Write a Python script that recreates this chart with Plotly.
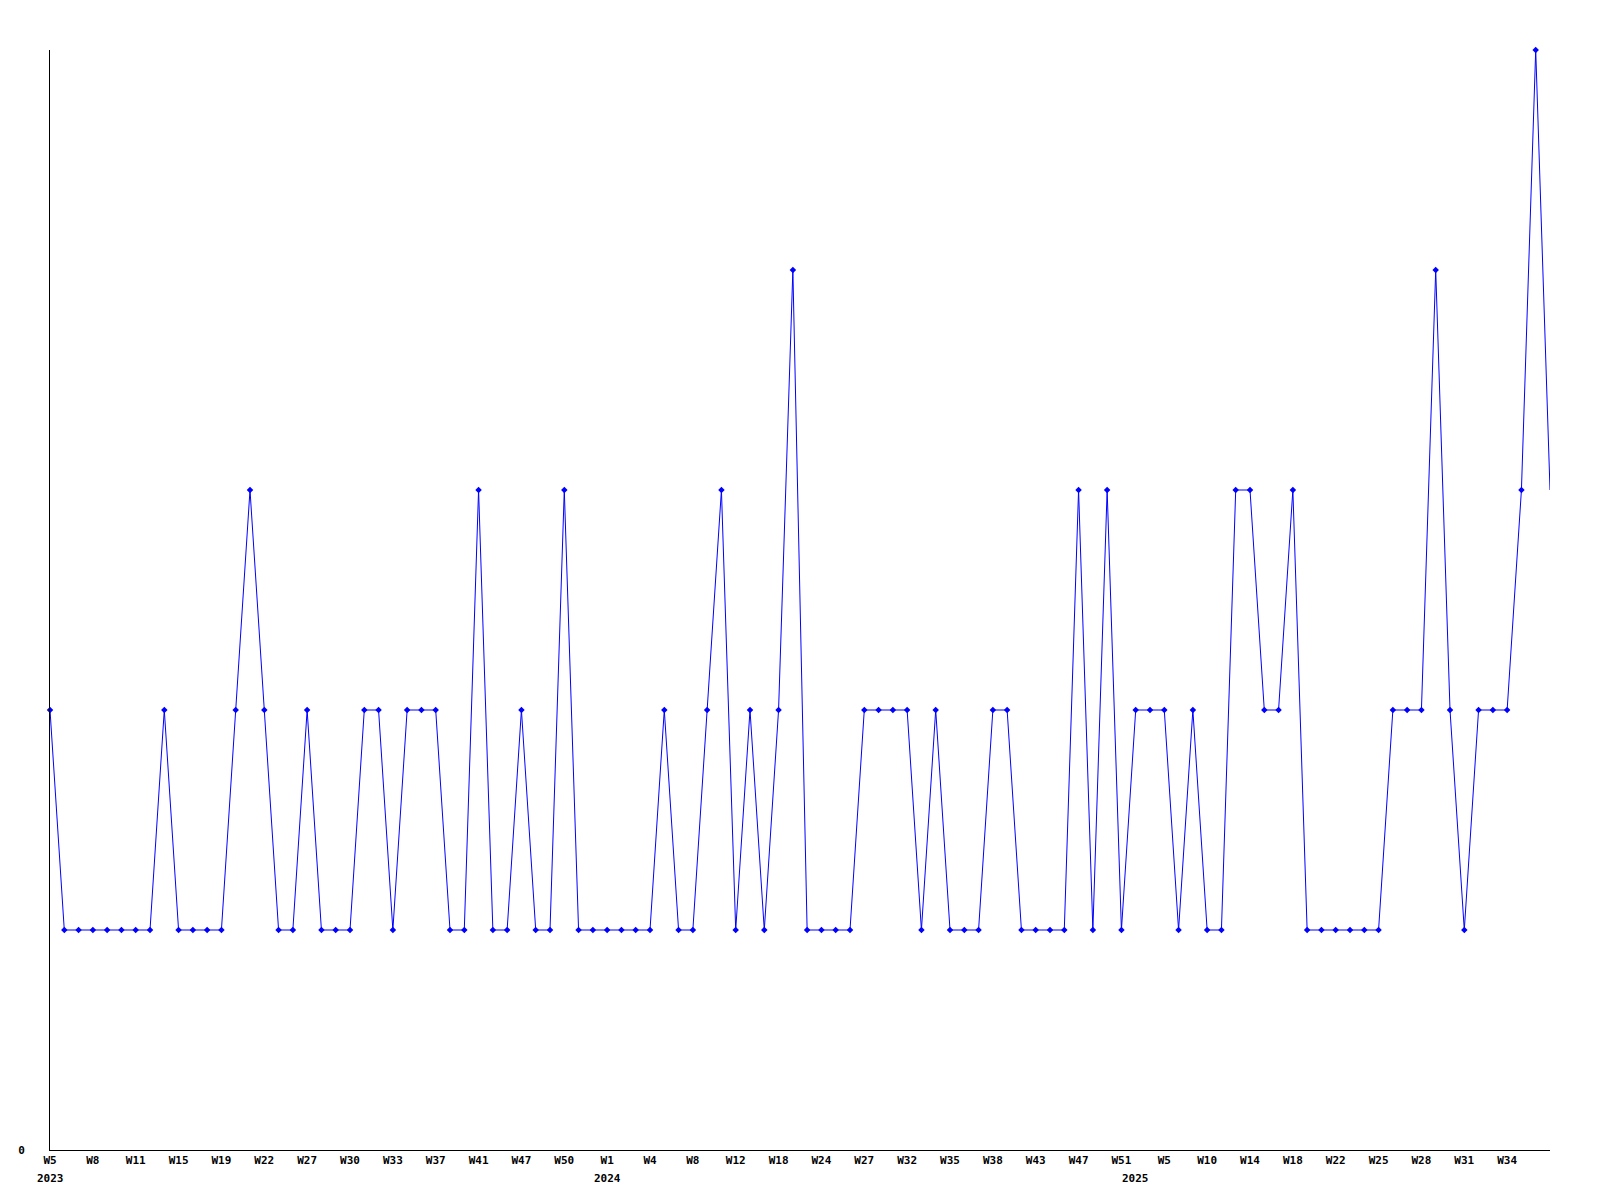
import plotly.graph_objects as go

weeks = [
    "2023-W05", "2023-W06", "2023-W07", "2023-W08", "2023-W09", "2023-W10", "2023-W11", "2023-W13",
    "2023-W14", "2023-W15", "2023-W16", "2023-W18", "2023-W19", "2023-W20", "2023-W21", "2023-W22",
    "2023-W24", "2023-W25", "2023-W27", "2023-W28", "2023-W29", "2023-W30", "2023-W31", "2023-W32",
    "2023-W33", "2023-W35", "2023-W36", "2023-W37", "2023-W39", "2023-W40", "2023-W41", "2023-W43",
    "2023-W45", "2023-W47", "2023-W48", "2023-W49", "2023-W50", "2023-W51", "2023-W52",
    "2024-W01", "2024-W02", "2024-W03", "2024-W04", "2024-W05", "2024-W07", "2024-W08", "2024-W10",
    "2024-W11", "2024-W12", "2024-W14", "2024-W16", "2024-W18", "2024-W20", "2024-W22", "2024-W24",
    "2024-W25", "2024-W26", "2024-W27", "2024-W29", "2024-W30", "2024-W32", "2024-W33", "2024-W34",
    "2024-W35", "2024-W36", "2024-W37", "2024-W38", "2024-W40", "2024-W41", "2024-W43", "2024-W44",
    "2024-W46", "2024-W47", "2024-W48", "2024-W50", "2024-W51",
    "2025-W01", "2025-W03", "2025-W05", "2025-W07", "2025-W09", "2025-W10", "2025-W12", "2025-W13",
    "2025-W14", "2025-W16", "2025-W17", "2025-W18", "2025-W19", "2025-W20", "2025-W22", "2025-W23",
    "2025-W24", "2025-W25", "2025-W26", "2025-W27", "2025-W28", "2025-W29", "2025-W30", "2025-W31",
    "2025-W32", "2025-W33", "2025-W34", "2025-W35", "2025-W36", "2025-W37",
]

counts = [
    2, 1, 1, 1, 1, 1, 1, 1, 2, 1, 1, 1, 1, 2, 3, 2, 1, 1, 2, 1,
    1, 1, 2, 2, 1, 2, 2, 2, 1, 1, 3, 1, 1, 2, 1, 1, 3, 1, 1, 1,
    1, 1, 1, 2, 1, 1, 2, 3, 1, 2, 1, 2, 4, 1, 1, 1, 1, 2, 2, 2,
    2, 1, 2, 1, 1, 1, 2, 2, 1, 1, 1, 1, 3, 1, 3, 1, 2, 2, 2, 1,
    2, 1, 1, 3, 3, 2, 2, 3, 1, 1, 1, 1, 1, 1, 2, 2, 2, 4, 2, 1,
    2, 2, 2, 3, 5, 3,
]

x = list(range(len(weeks)))
tick_idx = x[:-1:3]
tick_text = ["W" + str(int(weeks[i].split("-W")[1])) for i in tick_idx]

years = []
year_pos = []
for i, w in enumerate(weeks):
    yr = w.split("-")[0]
    if yr not in years:
        years.append(yr)
        year_pos.append(i)

FONT = "DejaVu Sans Mono"
BLUE = "#0000ff"

fig = go.Figure()
fig.add_trace(go.Scatter(
    x=x, y=counts, mode="lines",
    line=dict(color=BLUE, width=1), cliponaxis=False, showlegend=False,
))
fig.add_trace(go.Scatter(
    x=x[:-1], y=counts[:-1], mode="markers",
    marker=dict(color=BLUE, size=5, symbol="diamond"), cliponaxis=False, showlegend=False,
))

for yr, p in zip(years, year_pos):
    fig.add_annotation(
        x=p, y=0, xref="x", yref="paper", yanchor="top", yshift=-20,
        text="<b>" + yr + "</b>", showarrow=False,
        font=dict(family=FONT, size=11, color="black"),
    )

fig.update_layout(
    width=1584, height=1184,
    margin=dict(l=42, r=42, t=42, b=42),
    paper_bgcolor="white", plot_bgcolor="white",
    xaxis=dict(
        range=[0, len(weeks) - 1], showgrid=False, zeroline=False,
        showline=True, linecolor="black", linewidth=1,
        tickmode="array", tickvals=tick_idx,
        ticktext=["<b>" + t + "</b>" for t in tick_text],
        ticks="", tickfont=dict(family=FONT, size=11, color="black"),
        ticklabelstandoff=0, automargin=False,
    ),
    yaxis=dict(
        range=[0, 5], showgrid=False, zeroline=False,
        showline=True, linecolor="black", linewidth=1,
        tickmode="array", tickvals=[0], ticktext=["<b>0</b>"],
        ticks="", tickfont=dict(family=FONT, size=11, color="black"),
        ticklabelstandoff=22, automargin=False,
    ),
)

fig.write_html("out.html")
